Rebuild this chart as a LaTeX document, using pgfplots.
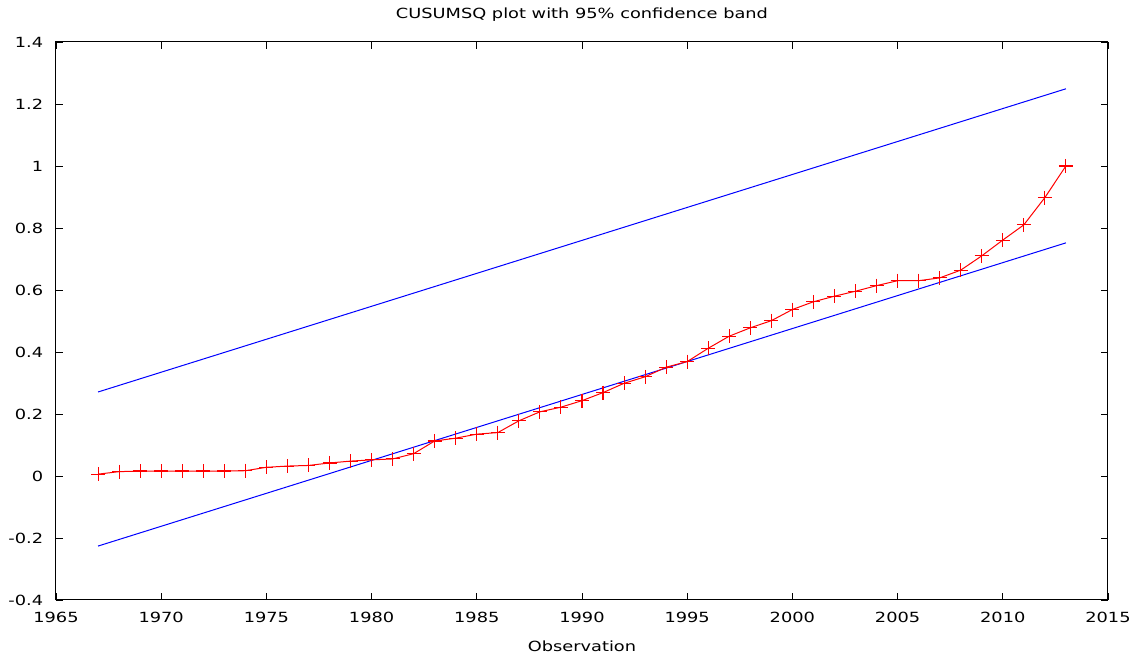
\documentclass[border=0pt]{standalone}
\usepackage{fontspec}
\setmainfont{DejaVu Sans}[FakeStretch=1.27]
\usepackage{pgfplots}
\pgfplotsset{compat=1.18}
\begin{document}
\fontsize{14pt}{16pt}\selectfont
\begin{tikzpicture}
\begin{axis}[
  at={(0,0)}, anchor=south west,
  scale only axis,
  width=1052pt, height=558pt,
  xmin=1965, xmax=2015, ymin=-0.4, ymax=1.4,
  xtick={1965,1970,...,2015},
  ytick={-0.4,-0.2,0,0.2,0.4,0.6,0.8,1,1.2,1.4},
  yticklabels={-0.4,-0.2,0,0.2,0.4,0.6,0.8,1,1.2,1.4},
  xticklabels={1965,1970,1975,1980,1985,1990,1995,2000,2005,2010,2015},
  tick align=inside,
  major tick length=7pt,
  axis line style={line width=1pt},
  every tick/.style={black, line width=0.8pt},
  tick label style={font=\fontsize{14pt}{16pt}\selectfont},
  xticklabel style={yshift=-7pt},
  yticklabel style={xshift=-8pt},
  title={CUSUMSQ plot with 95\% confidence band},
  title style={at={(0.5,1)}, anchor=base, yshift=17pt, font=\fontsize{14pt}{16pt}\selectfont},
  xlabel={Observation},
  xlabel style={at={(0.5,0)}, anchor=base, yshift=-52pt, font=\fontsize{14pt}{16pt}\selectfont},
  /pgf/number format/assume math mode=true,
  clip=false,
]
\addplot[blue, line width=1pt] coordinates {(1967,0.271) (2013,1.249)};
\addplot[blue, line width=1pt] coordinates {(1967,-0.226) (2013,0.752)};
\addplot[red, line width=1pt, mark=+, mark size=7pt, mark options={line width=1.1pt}] coordinates {
(1967,0.006) (1968,0.014) (1969,0.016) (1970,0.016) (1971,0.016) (1972,0.016)
(1973,0.016) (1974,0.017) (1975,0.028) (1976,0.032) (1977,0.034) (1978,0.042)
(1979,0.048) (1980,0.052) (1981,0.055) (1982,0.072) (1983,0.113) (1984,0.122)
(1985,0.135) (1986,0.140) (1987,0.178) (1988,0.207) (1989,0.222) (1990,0.243)
(1991,0.269) (1992,0.299) (1993,0.320) (1994,0.351) (1995,0.369) (1996,0.412)
(1997,0.451) (1998,0.478) (1999,0.501) (2000,0.537) (2001,0.562) (2002,0.580)
(2003,0.596) (2004,0.614) (2005,0.630) (2006,0.630) (2007,0.639) (2008,0.664)
(2009,0.710) (2010,0.761) (2011,0.810) (2012,0.898) (2013,1.0)};
\end{axis}
\pgfresetboundingbox
\path[use as bounding box] (-56pt,-55pt) rectangle (1085pt,600pt);
\end{tikzpicture}
\end{document}
